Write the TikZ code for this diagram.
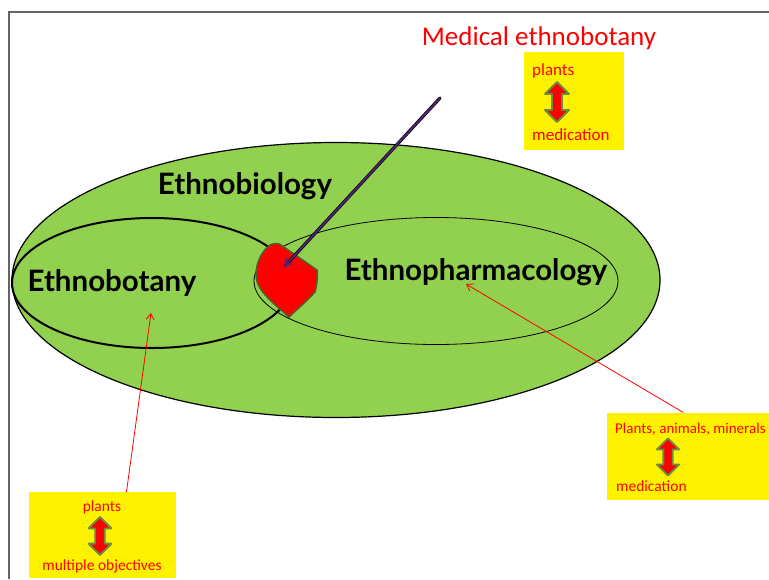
\documentclass[tikz,border=0pt]{standalone}
\usepackage{fontspec}
\setmainfont{Carlito}
\newfontfamily\labelfont{Lato}
\usetikzlibrary{shapes.geometric,arrows.meta,positioning}
\definecolor{leaf}{RGB}{146,208,80}
\definecolor{arrowgreen}{RGB}{104,140,66}
\definecolor{framegray}{RGB}{100,100,100}
\definecolor{penpurple}{RGB}{80,36,120}
\tikzset{dblarrow/.pic={
   \draw[arrowgreen,line width=1.8pt,fill=red,line join=round]
    (0,-20) -- (12,-8) -- (5,-8) -- (5,8) -- (12,8) -- (0,20)
    -- (-12,8) -- (-5,8) -- (-5,-8) -- (-12,-8) -- cycle;
}}

\begin{document}
\begin{tikzpicture}[x=1pt,y=-1pt,
   set/.style={ellipse,draw=black,inner sep=0pt},
   box/.style={fill=yellow,inner sep=0pt},
   lbl/.style={text=red,inner sep=0pt,font=\fontsize{15.5}{17}\selectfont},
   title/.style={inner sep=0pt,font=\labelfont\bfseries\fontsize{29.5}{31}\selectfont},
   pointer/.style={red,line width=0.8pt,-{Straight Barb[length=6pt,width=8pt]}}]
   \useasboundingbox (0,0) rectangle (769,579);
   \draw[framegray,line width=1.5pt] (9,579) -- (9,12) -- (769,12);

   \node [set,fill=leaf,line width=1.2pt,minimum width=648pt,minimum height=275pt] (Bio) at (336,280) {};
   \node [set,line width=2pt,minimum width=280pt,minimum height=130pt] (Bot) at (152,283) {};
   \node [set,line width=0.8pt,minimum width=364pt,minimum height=127pt] (Pharm) at (436,281) {};
   \draw[arrowgreen!70!black,line width=1.5pt,fill=red]
    (270,245) .. controls (274,243) and (278,243) .. (281,245) -- (317,270)
    .. controls (318,280) and (316,288) .. (315,292)
    .. controls (305,303) and (295,311) .. (289,317)
    .. controls (272,302) and (256,290) .. (256,275)
    .. controls (256,262) and (262,251) .. (270,245) -- cycle;

   \node [title] (Bio_t) at (245,186) {Ethnobiology};
   \node [title] (Bot_t) at (112,283) {Ethnobotany};
   \node [title] (Pharm_t) at (476,272) {Ethnopharmacology};

   \node [text=red,inner sep=0pt,font=\fontsize{27}{30}\selectfont] (Med) at (539,38) {Medical ethnobotany};
   \node [box,minimum width=100pt,minimum height=98pt] (Med_box) at (574,101) {};
   \node [lbl,anchor=base west,font=\fontsize{17}{19}\selectfont] (Med_a) at (532,75) {plants};
   \node [lbl,anchor=base west,font=\fontsize{17}{19}\selectfont] (Med_b) at (532,140) {medication};
   \pic at (557,102) {dblarrow};

   \node [box,minimum width=162pt,minimum height=87pt] (Ph_box) at (688,456) {};
   \node [lbl,anchor=base west,font=\fontsize{15}{16}\selectfont] (Ph_a) at (615,433) {Plants, animals, minerals};
   \node [lbl,anchor=base west] (Ph_b) at (616,491) {medication};
   \pic[scale=0.93] at (668,457) {dblarrow};

   \node [box,minimum width=147pt,minimum height=86pt] (Bot_box) at (102.5,535) {};
   \node [lbl,anchor=base] (Bot_a) at (102,511) {plants};
   \node [lbl,anchor=base] (Bot_b) at (102,570) {multiple objectives};
   \pic[scale=0.95] at (100,536) {dblarrow};

   \coordinate (pen) at (440,98);
   \coordinate (lens) at (283,268);
   \coordinate (Bot_in) at (151,313);
   \coordinate (Pharm_in) at (466,284);
   \draw[black,line width=3.2pt,line cap=round,shorten >=8pt] (pen) -- (lens);
   \draw[penpurple,line width=1.8pt,-{Stealth[length=10pt,width=9pt]}] (pen) -- (lens);
   \path[pointer]
    ([xshift=24pt]Bot_box.north) edge (Bot_in)
    ([xshift=-5pt]Ph_box.north) edge (Pharm_in);
\end{tikzpicture}
\end{document}
